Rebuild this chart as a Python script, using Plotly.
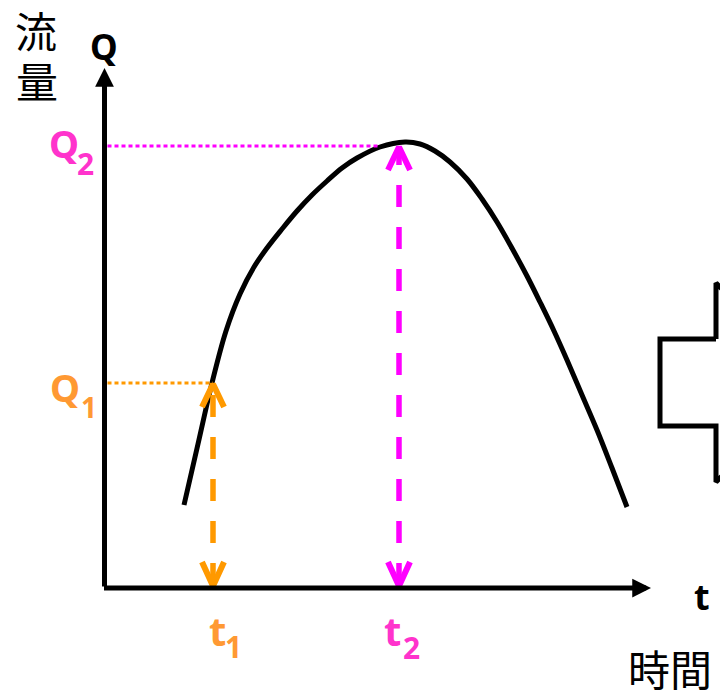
import plotly.graph_objects as go

# ---- data (time t, flow Q) in schematic units ----
curve_t = [1.59, 1.87, 2.15, 2.43, 2.71, 2.99, 3.25, 3.55, 3.85, 4.15, 4.45, 4.75,
           5.05, 5.51, 6.01, 6.31, 6.61, 6.91, 7.25, 7.55, 7.85, 8.17, 8.45, 8.71,
           8.99, 9.25, 9.55, 9.85, 10.15, 10.45]
curve_q = [1.66, 2.88, 4.10, 5.14, 5.88, 6.42, 6.80, 7.18, 7.54, 7.86, 8.14, 8.40,
           8.60, 8.82, 8.92, 8.88, 8.74, 8.52, 8.18, 7.78, 7.32, 6.76, 6.24, 5.72,
           5.14, 4.56, 3.86, 3.16, 2.40, 1.62]

t1, q1 = 2.17, 4.10
t2, q2 = 5.89, 8.84
q2_hit_t = 5.51        # where the Q2 dotted line meets the curve
t_axis_end = 10.93
q_axis_end = 10.40

# block-arrow outline (right edge, cut off by the frame)
block_t = [12.23, 11.11, 11.11, 12.23, 12.23, 14.23, 12.23, 12.23]
block_q = [4.98, 4.98, 3.24, 3.24, 2.12, 4.11, 6.10, 4.98]

ORANGE_LINE = "#ff9900"
ORANGE_TEXT = "#ff9933"
MAG_LINE = "#ff00ff"
MAG_TEXT = "#ff33cc"

W, H = 720, 694
X0, Y0, PX = 104.5, 588.0, 50.0   # origin pixel and px per unit

fig = go.Figure()

# main curve
fig.add_trace(go.Scatter(x=curve_t, y=curve_q, mode="lines",
                         line=dict(color="black", width=5, shape="spline", smoothing=1.0),
                         hoverinfo="skip"))

# dotted guide lines
fig.add_trace(go.Scatter(x=[0.06, t1], y=[q1, q1], mode="lines",
                         line=dict(color=ORANGE_LINE, width=3, dash="4px,3px"), hoverinfo="skip"))
fig.add_trace(go.Scatter(x=[0.06, q2_hit_t], y=[q2, q2], mode="lines",
                         line=dict(color=MAG_LINE, width=3, dash="4px,3px"), hoverinfo="skip"))

# dashed double arrows
dx, dy = 0.22, 0.48
for tt, qq, col in [(t1, q1, ORANGE_LINE), (t2, q2, MAG_LINE)]:
    fig.add_trace(go.Scatter(x=[tt, tt], y=[0.06, qq - 0.06], mode="lines",
                             line=dict(color=col, width=5.5, dash="22px,20px"), hoverinfo="skip"))
    fig.add_trace(go.Scatter(x=[tt - dx, tt, tt + dx], y=[qq - dy, qq - 0.02, qq - dy], mode="lines",
                             line=dict(color=col, width=6), hoverinfo="skip"))
    fig.add_trace(go.Scatter(x=[tt - dx, tt, tt + dx], y=[dy + 0.04, 0.04, dy + 0.04], mode="lines",
                             line=dict(color=col, width=6), hoverinfo="skip"))

# block arrow outline
fig.add_trace(go.Scatter(x=block_t, y=block_q, mode="lines",
                         line=dict(color="black", width=5), hoverinfo="skip"))

# axes with arrowheads
fig.add_annotation(x=0, y=q_axis_end, ax=0, ay=0, xref="x", yref="y", axref="x", ayref="y",
                   showarrow=True, arrowhead=2, arrowsize=0.75, arrowwidth=5, arrowcolor="black", text="")
fig.add_annotation(x=t_axis_end, y=0, ax=-0.04, ay=0, xref="x", yref="y", axref="x", ayref="y",
                   showarrow=True, arrowhead=2, arrowsize=0.75, arrowwidth=5, arrowcolor="black", text="")


def label(text, px, py, size, color, family="Noto Sans, sans-serif", bold=True):
    fig.add_annotation(x=px / W, y=1 - py / H, xref="paper", yref="paper",
                       text=("<b>%s</b>" % text) if bold else text, showarrow=False,
                       xanchor="center", yanchor="middle",
                       font=dict(family=family, size=size, color=color))


CJK = "Noto Sans CJK JP, sans-serif"
label("流", 36, 30, 42, "black", CJK, bold=False)
label("量", 37, 79, 42, "black", CJK, bold=False)
label("時間", 670, 667, 42, "black", CJK, bold=False)

label("Q", 104, 46, 35, "black")
label("t", 702, 596, 36, "black")

label("Q", 64, 143, 38, MAG_TEXT)
label("2", 85, 163, 30, MAG_TEXT)
label("Q", 65, 387, 38, ORANGE_TEXT)
label("1", 89, 407, 28, ORANGE_TEXT)

label("t", 218, 630, 40, ORANGE_TEXT)
label("1", 233, 646, 30, ORANGE_TEXT)
label("t", 393, 630, 40, MAG_TEXT)
label("2", 411, 647, 30, MAG_TEXT)

fig.update_layout(
    width=W, height=H, autosize=False,
    margin=dict(l=0, r=0, t=0, b=0),
    paper_bgcolor="white", plot_bgcolor="white",
    showlegend=False,
    hovermode=False,
    xaxis=dict(range=[-X0 / PX, (W - X0) / PX], visible=False, fixedrange=True),
    yaxis=dict(range=[-(H - Y0) / PX, Y0 / PX], visible=False, fixedrange=True),
)

fig.write_html("out.html", config={"displayModeBar": False, "staticPlot": True},
               post_script="document.body.style.margin='0';document.body.style.overflow='hidden';")
